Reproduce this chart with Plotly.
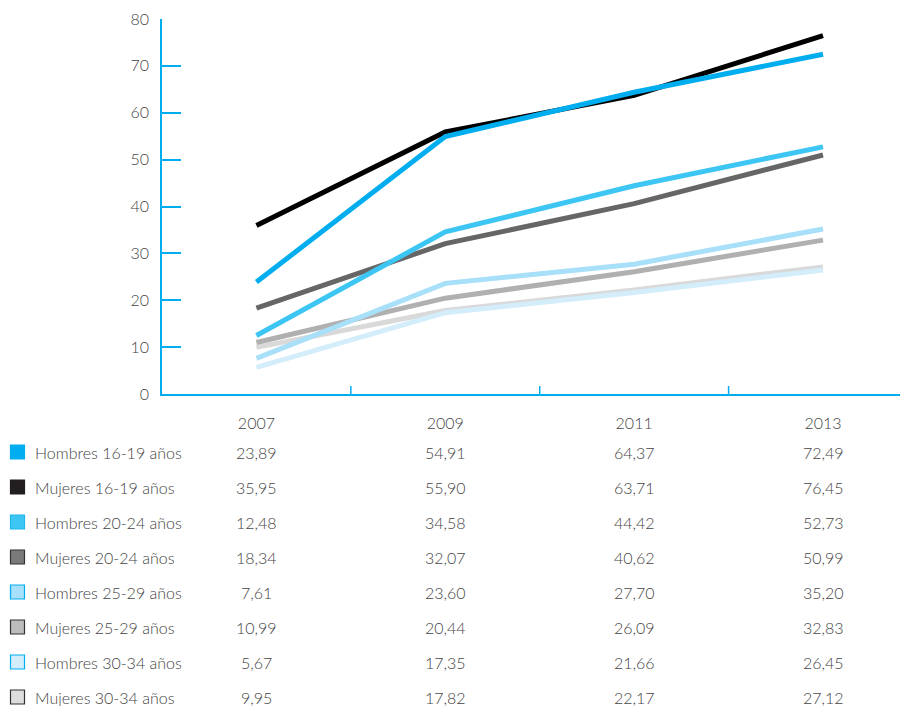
import plotly.graph_objects as go

years = ["2007", "2009", "2011", "2013"]
series_names = [
    "Hombres 16-19 años", "Mujeres 16-19 años",
    "Hombres 20-24 años", "Mujeres 20-24 años",
    "Hombres 25-29 años", "Mujeres 25-29 años",
    "Hombres 30-34 años", "Mujeres 30-34 años",
]
hombres_16_19 = [23.89, 54.91, 64.37, 72.49]
mujeres_16_19 = [35.95, 55.90, 63.71, 76.45]
hombres_20_24 = [12.48, 34.58, 44.42, 52.73]
mujeres_20_24 = [18.34, 32.07, 40.62, 50.99]
hombres_25_29 = [7.61, 23.60, 27.70, 35.20]
mujeres_25_29 = [10.99, 20.44, 26.09, 32.83]
hombres_30_34 = [5.67, 17.35, 21.66, 26.45]
mujeres_30_34 = [9.95, 17.82, 22.17, 27.12]
series_values = [hombres_16_19, mujeres_16_19, hombres_20_24, mujeres_20_24,
                 hombres_25_29, mujeres_25_29, hombres_30_34, mujeres_30_34]
y_ticks = [0, 10, 20, 30, 40, 50, 60, 70, 80]

line_colors = ["#00AEEF", "#000000", "#3DC6F3", "#666666",
               "#A8DFF9", "#B0B0B0", "#D3EDFB", "#D9D9D9"]
square_fill = ["#00AEEF", "#231F20", "#3DC6F3", "#7A7A7A",
               "#A8DFF9", "#BCBCBC", "#D3EDFB", "#DDDDDD"]
square_line = ["#00AEEF", "#231F20", "#1FB6EC", "#333333",
               "#00AEEF", "#333333", "#00AEEF", "#333333"]

# page body has an 8px margin -> figure is placed at (8, 8)
W, H = 900, 698
L, T = 154, 11
AX_Y = 386
B = H - AX_Y
plot_w = W - L
plot_h = AX_Y - T
FONT = "Lato, 'Open Sans', sans-serif"
TXT = "#444444"
WEIGHT = 300

fig = go.Figure()
draw_order = [7, 6, 5, 4, 3, 2, 1, 0]
for i in draw_order:
    fig.add_trace(go.Scatter(
        x=years, y=series_values[i], mode="lines", name=series_names[i],
        line=dict(color=line_colors[i], width=5), showlegend=False,
        hoverinfo="skip"))

annotations = []
shapes = []
for r, name in enumerate(series_names):
    ypix = 444 + 35 * r
    yp = (AX_Y - ypix) / plot_h
    annotations.append(dict(
        x=(25 - L) / plot_w, y=yp, xref="paper", yref="paper",
        text=name, showarrow=False, xanchor="left", yanchor="middle",
        font=dict(family=FONT, size=16, color=TXT, weight=WEIGHT)))
    for j, yr in enumerate(years):
        annotations.append(dict(
            x=j, y=yp, xref="x", yref="paper",
            text=f"{series_values[r][j]:.2f}".replace(".", ","),
            showarrow=False, xanchor="center", yanchor="middle",
            font=dict(family=FONT, size=16, color=TXT, weight=WEIGHT)))
    shapes.append(dict(
        type="rect", xref="paper", yref="paper",
        x0=(2.5 - L) / plot_w, x1=(16.5 - L) / plot_w,
        y0=(AX_Y - (ypix + 7)) / plot_h, y1=(AX_Y - (ypix - 7)) / plot_h,
        fillcolor=square_fill[r], line=dict(color=square_line[r], width=1.2)))

# category separator ticks (inside, pointing up)
for k in range(1, 4):
    shapes.append(dict(type="line", xref="x", yref="paper",
                       x0=k - 0.5, x1=k - 0.5, y0=0, y1=8 / plot_h,
                       line=dict(color="#00AEEF", width=1.5)))

fig.update_layout(
    width=W, height=H,
    margin=dict(l=L, r=0, t=T, b=B),
    paper_bgcolor="white", plot_bgcolor="white",
    font=dict(family=FONT, color=TXT, size=16, weight=WEIGHT),
    xaxis=dict(type="category", range=[-0.5, 3.45], showgrid=False,
               showline=True, linecolor="#00AEEF", linewidth=1.5,
               ticks="", tickfont=dict(size=16, color=TXT, weight=WEIGHT),
               ticklabelstandoff=14, zeroline=False, fixedrange=True),
    yaxis=dict(range=[0, 80], tickvals=y_ticks, showgrid=False,
               showline=True, linecolor="#00AEEF", linewidth=1.5,
               ticks="inside", ticklen=19, tickcolor="#00AEEF", tickwidth=1.5,
               ticklabelstandoff=8,
               tickfont=dict(size=16, color=TXT, weight=WEIGHT),
               zeroline=False, fixedrange=True),
    annotations=annotations, shapes=shapes,
)

fig.write_html("out.html")
